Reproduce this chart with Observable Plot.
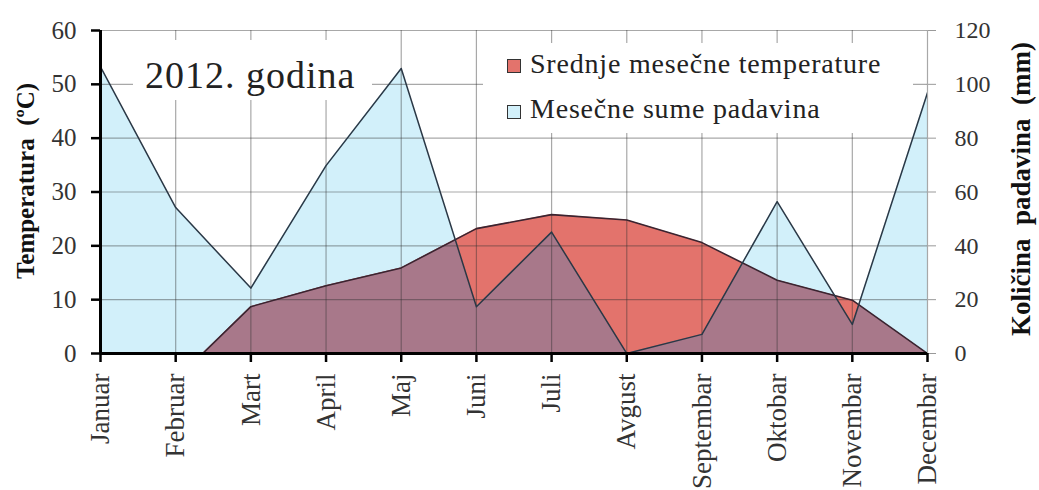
<!DOCTYPE html>
<html>
<head>
<meta charset="utf-8">
<script src="https://cdn.jsdelivr.net/npm/d3@7"></script>
<script src="https://cdn.jsdelivr.net/npm/@observablehq/plot@0.6"></script>
<style>
  body { margin: 0; background: #fff; }
  #wrap { position: relative; width: 1039px; height: 490px; overflow: hidden; }
  #wrap svg text { white-space: pre; }
  .box { position: absolute; background: #fff; font-family: "Liberation Serif", serif; color: #222; }
  .txt { position: absolute; white-space: nowrap; font-family: "Liberation Serif", serif; }
  .sw { position: absolute; width: 14px; height: 14px; border: 1px solid #333; box-sizing: border-box; }
</style>
</head>
<body>
<div id="wrap"></div>
<script>
// ---- data ----
const months = ["Januar","Februar","Mart","April","Maj","Juni","Juli","Avgust","Septembar","Oktobar","Novembar","Decembar"];
const temperature = [-1.0, -4.9, 8.7, 12.6, 15.9, 23.2, 25.8, 24.8, 20.6, 13.6, 9.9, 0.0];   // °C
const precipitation = [106.5, 54.2, 24.3, 69.8, 105.9, 17.4, 45.1, 0.0, 7.1, 56.4, 10.8, 96.9]; // mm
const leftTicks = [0, 10, 20, 30, 40, 50, 60];
const rightTickLabels = ["0", "20", "40", "60", "80", "100", "120"];
const seriesNames = ["Srednje mesečne temperature", "Mesečne sume padavina"];
const titleText = "2012. godina";
const leftLabel = "Temperatura  (ºC)";
const rightLabel = "Količina  padavina  (mm)";

// colours
const cTemp = "#E3736C", cPrec = "#D2F0FA", cBoth = "#A8788A";

// ---- tables built from the arrays ----
const monthIdx = months.map((_, i) => i);
const rows = months.map((m, i) => ({i, t: temperature[i], p: precipitation[i] / 2}));
// overlap (min of the two curves), including crossing points between months
const overlap = [];
rows.forEach((r, k) => {
  overlap.push({x: r.i, y: Math.min(r.t, r.p)});
  const n = rows[k + 1];
  if (n) {
    const d0 = r.t - r.p, d1 = n.t - n.p;
    if (d0 * d1 < 0) {
      const f = d0 / (d0 - d1);
      overlap.push({x: r.i + f, y: r.t + f * (n.t - r.t)});
    }
  }
});

const gridStroke = "#303030", gridOpacity = 0.42;

const chart = Plot.plot({
  width: 1039,
  height: 490,
  marginLeft: 100,
  marginRight: 112,
  marginTop: 30,
  marginBottom: 137,
  style: {fontFamily: "'Liberation Serif', serif", background: "#fff", color: "#333"},
  x: {type: "linear", domain: [0, 11], axis: null},
  y: {domain: [0, 60], axis: null},
  marks: [
    Plot.areaY(rows, {x: "i", y: "p", fill: cPrec, clip: true}),
    Plot.areaY(rows, {x: "i", y: "t", fill: cTemp, clip: true}),
    Plot.areaY(overlap, {x: "x", y: "y", fill: cBoth, clip: true}),
    Plot.ruleY(leftTicks, {stroke: gridStroke, strokeOpacity: gridOpacity, strokeWidth: 1.2}),
    Plot.ruleX(monthIdx, {stroke: gridStroke, strokeOpacity: gridOpacity, strokeWidth: 1.2}),
    Plot.line(rows, {x: "i", y: "t", stroke: "#3a2430", strokeWidth: 1.6, clip: true}),
    Plot.line(rows, {x: "i", y: "p", stroke: "#2a3846", strokeWidth: 1.5, clip: true}),
    Plot.axisY({anchor: "left", ticks: leftTicks, tickSize: 9, tickPadding: 15, fontSize: 25,
      stroke: "#000", strokeWidth: 2.5, fill: "#333", label: null}),
    Plot.axisY({anchor: "right", ticks: leftTicks, tickFormat: d => rightTickLabels[leftTicks.indexOf(d)],
      tickSize: 8, tickPadding: 19, fontSize: 24, stroke: "#999", strokeWidth: 1, fill: "#333", label: null}),
    Plot.axisX({ticks: monthIdx, tickFormat: i => months[i], tickRotate: -90, tickSize: 9, tickPadding: 11,
      fontSize: 27, stroke: "#000", strokeWidth: 2.5, fill: "#333", label: null}),
    Plot.ruleX([0], {stroke: "#000", strokeWidth: 3}),
    Plot.ruleY([0], {stroke: "#000", strokeWidth: 3}),
    Plot.text([leftLabel], {frameAnchor: "left", textAnchor: "middle", rotate: -90, dx: -75, dy: -11, fontSize: 25,
      fontWeight: "bold", fill: "#111"}),
    Plot.text([rightLabel], {frameAnchor: "right", textAnchor: "middle", rotate: -90, dx: 94, dy: -3, fontSize: 27,
      fontWeight: "bold", fill: "#111"})
  ]
});

const wrap = document.getElementById("wrap");
wrap.appendChild(chart);

// in-plot title box
const tbox = document.createElement("div");
tbox.className = "box";
Object.assign(tbox.style, {left: "133px", top: "40px", width: "239px", height: "60px"});
const tt = document.createElement("div");
tt.className = "txt";
Object.assign(tt.style, {left: "12px", top: "16px", fontSize: "38px", lineHeight: "38px", letterSpacing: "1px", color: "#222"});
tt.textContent = titleText;
tbox.appendChild(tt);
wrap.appendChild(tbox);

// in-plot legend box
const lbox = document.createElement("div");
lbox.className = "box";
Object.assign(lbox.style, {left: "483px", top: "43px", width: "430px", height: "90px"});
[cTemp, cPrec].forEach((c, k) => {
  const sw = document.createElement("div");
  sw.className = "sw";
  Object.assign(sw.style, {left: "24px", top: (16 + 46 * k) + "px", background: c});
  lbox.appendChild(sw);
  const t = document.createElement("div");
  t.className = "txt";
  Object.assign(t.style, {left: "47px", top: (7 + 45 * k) + "px", fontSize: "28px", lineHeight: "28px", letterSpacing: "0.8px", color: "#222"});
  t.textContent = seriesNames[k];
  lbox.appendChild(t);
});
wrap.appendChild(lbox);
</script>
</body>
</html>
